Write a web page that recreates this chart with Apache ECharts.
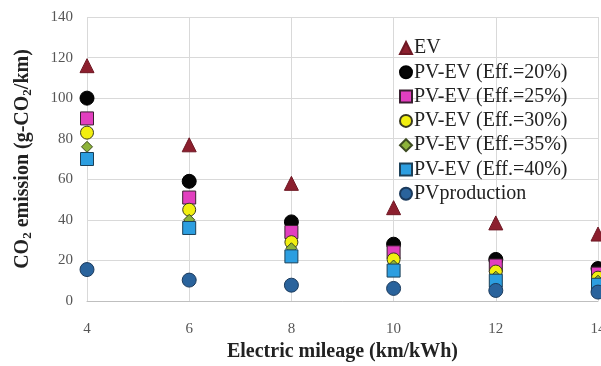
<!DOCTYPE html>
<html><head><meta charset="utf-8">
<script src="https://cdn.jsdelivr.net/npm/echarts@6/dist/echarts.min.js"></script>
<style>html,body{margin:0;padding:0;background:#fff}#c{width:601px;height:366px}</style>
</head><body><div id="c"></div>
<script>
var xValues = [4, 6, 8, 10, 12, 14];
var ev = [116, 77, 58, 46, 38.5, 33];
var pv20 = [100, 59, 39, 28, 20.5, 16];
var pv25 = [90, 51, 34, 24, 17.5, 13.5];
var pv30 = [83, 45, 29, 20.5, 14.5, 11.5];
var pv35 = [76, 40, 26, 17.5, 12, 10];
var pv40 = [70, 36, 22, 15, 10, 8];
var pvProd = [15.5, 10.3, 7.8, 6.2, 5.2, 4.4];
var names = ['EV', 'PV-EV (Eff.=20%)', 'PV-EV (Eff.=25%)', 'PV-EV (Eff.=30%)', 'PV-EV (Eff.=35%)', 'PV-EV (Eff.=40%)', 'PVproduction'];

function pts(arr){ return xValues.map(function(x,i){ return [x, arr[i]]; }); }
var F = '"Liberation Serif", "Times New Roman", serif';
function s(name, arr, symbol, size, color, border, z){
  return {name:name, type:'scatter', data:pts(arr), symbol:symbol, symbolSize:size, z:z||2,
    itemStyle:{color:color, borderColor:border, borderWidth:1, opacity:1}};
}
var chart = echarts.init(document.getElementById('c'));
chart.setOption({
  animation:false,
  grid:{left:87, right:3, top:17, bottom:65, outerBoundsMode:'none', containLabel:false},
  legend:{orient:'vertical', left:394, top:33, itemWidth:12, itemHeight:12, itemGap:4.3,
    textStyle:{fontFamily:F, fontSize:20, lineHeight:20, color:'#222', padding:[0,0,0,-3]}, data:names},
  xAxis:{type:'value', min:4, max:14, interval:2,
    name:'Electric mileage (km/kWh)', nameLocation:'middle', nameGap:41,
    nameTextStyle:{fontFamily:F, fontSize:20, fontWeight:'bold', color:'#222'},
    axisLine:{show:true, lineStyle:{color:'#bfbfbf'}}, axisTick:{show:false},
    axisLabel:{fontFamily:F, fontSize:15, color:'#555', margin:21},
    splitLine:{show:true, lineStyle:{color:'#d9d9d9'}}},
  yAxis:{type:'value', min:0, max:140, interval:20,
    name:'{a|CO}{s|2}{a| emission (g-CO}{s|2}{a|/km)}', nameLocation:'middle', nameGap:53,
    nameTextStyle:{fontFamily:F, fontSize:20, fontWeight:'bold', color:'#222',
      rich:{a:{fontFamily:F, fontSize:20, fontWeight:'bold', color:'#222'},
            s:{fontFamily:F, fontSize:13, fontWeight:'bold', color:'#222', padding:[10,0,0,0]}}},
    axisLine:{show:false}, axisTick:{show:false},
    axisLabel:{fontFamily:F, fontSize:15, color:'#555', margin:14},
    splitLine:{show:true, lineStyle:{color:'#d9d9d9'}}},
  series:[
    s(names[0], ev, 'triangle', 14, '#8c1f2e', '#6e1824', 3),
    s(names[1], pv20, 'circle', 14, '#050505', '#000', 3),
    s(names[2], pv25, 'rect', 13, '#e23fbf', '#3a2030', 3),
    s(names[3], pv30, 'circle', 13, '#f2ef10', '#3a3a20', 3),
    s(names[4], pv35, 'diamond', 11, '#8db33a', '#3c4a20', 3),
    s(names[5], pv40, 'rect', 13, '#2c9ee0', '#1c4058', 3),
    s(names[6], pvProd, 'circle', 14, '#2a639c', '#1b3a5c', 3)
  ]
});
</script></body></html>
